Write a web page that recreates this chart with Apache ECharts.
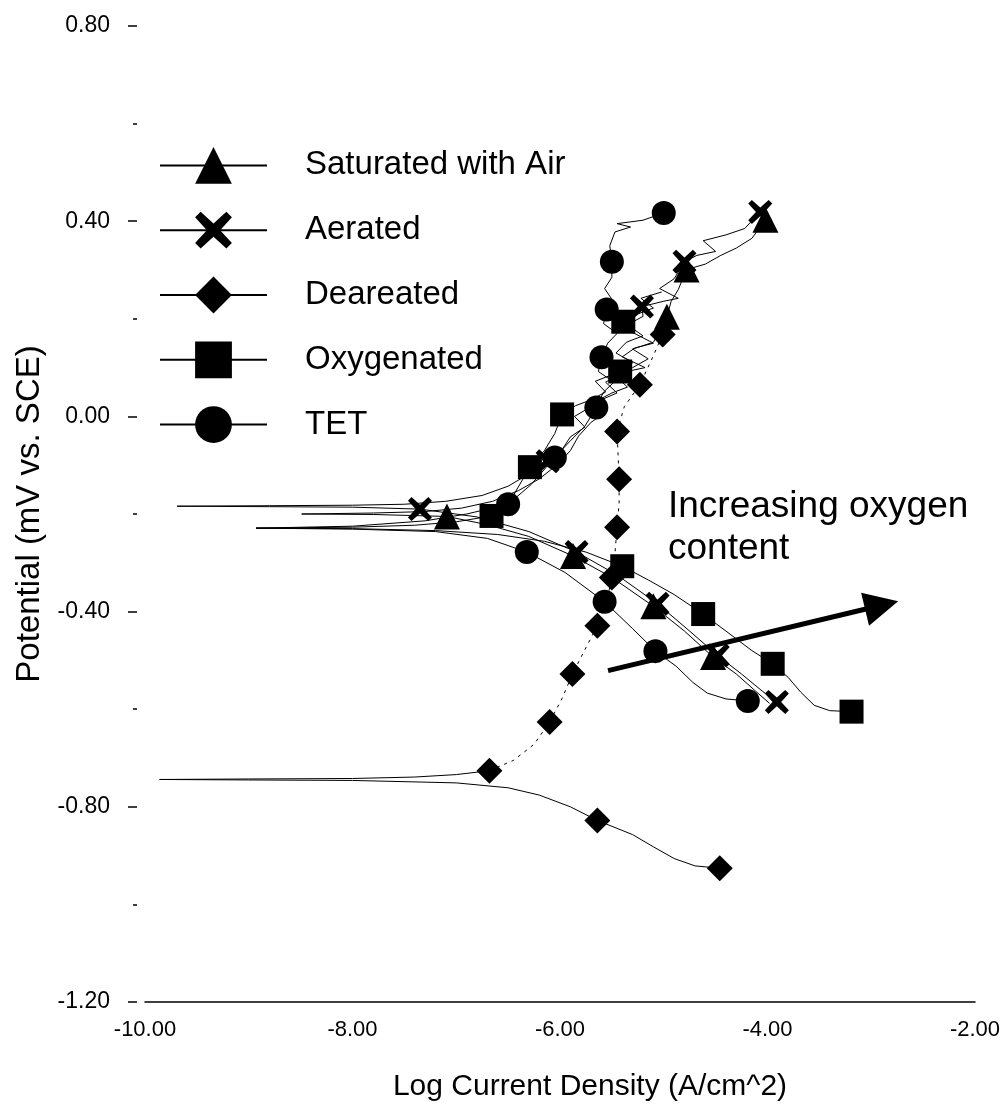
<!DOCTYPE html>
<html><head><meta charset="utf-8">
<script src="https://cdn.jsdelivr.net/npm/echarts@6/dist/echarts.min.js"></script>
<style>html,body{margin:0;padding:0;background:#fff}#chart{width:1006px;height:1111px}</style>
</head><body><div id="chart"></div>
<script>
// Series names (legend order)
const seriesNames = ['Saturated with Air', 'Aerated', 'Deareated', 'Oxygenated', 'TET'];

// Each curve: [logCurrent, potential, markerFlag]; scan runs cathodic end -> Ecorr tip -> anodic end.
const satAirCurve = [
  [-3.98,-0.588],[-4.12,-0.562],[-4.3,-0.528],[-4.525,-0.493,1],[-4.8,-0.44],[-5.10,-0.389,1],[-5.5,-0.33],
  [-5.875,-0.286,1],[-6.3,-0.246],[-6.7,-0.222],[-7.09,-0.205,1],[-7.8,-0.201],[-8.49,-0.2],
  [-7.8,-0.198],[-7.3,-0.195],[-6.95,-0.188],[-6.65,-0.174],[-6.4,-0.152],[-6.2,-0.128],[-6.02,-0.098],
  [-5.9,-0.07],[-5.82,-0.04],[-5.7,-0.012],[-5.56,0.008],[-5.66,0.03],[-5.5,0.048],[-5.35,0.06],[-5.46,0.082],
  [-5.3,0.1],[-5.15,0.118],[-5.3,0.138],[-5.1,0.152],[-5.02,0.18],[-4.97,0.204,1],[-4.93,0.235],[-4.86,0.26],
  [-4.78,0.301,1],[-4.6,0.312],[-4.45,0.33],[-4.3,0.345],[-4.15,0.365],[-4.02,0.403,1]
];
const aeratedCurve = [
  [-3.91,-0.585,1],[-4.05,-0.563],[-4.25,-0.528],[-4.48,-0.49,1],[-4.75,-0.44],[-5.06,-0.384,1],[-5.45,-0.325],
  [-5.84,-0.278,1],[-6.3,-0.236],[-6.8,-0.206],[-7.35,-0.19,1],[-8.0,-0.186],[-8.8,-0.185],[-9.69,-0.184],
  [-8.8,-0.183],[-8.0,-0.182],[-7.5,-0.18],[-7.1,-0.174],[-6.75,-0.162],[-6.5,-0.143],[-6.3,-0.118],
  [-6.12,-0.092,1],[-5.98,-0.068],[-5.9,-0.042],[-5.76,-0.022],[-5.86,0.0],[-5.7,0.02],[-5.58,0.036],
  [-5.45,0.048],[-5.56,0.07],[-5.4,0.09],[-5.18,0.1],[-5.4,0.122],[-5.28,0.14],[-5.1,0.15],[-5.3,0.172],
  [-5.33,0.19],[-5.2,0.205],[-5.21,0.225,1],[-5.0,0.236],[-4.86,0.242],[-5.04,0.262],[-4.9,0.282],
  [-4.8,0.317,1],[-4.68,0.33],[-4.5,0.338],[-4.62,0.36],[-4.4,0.372],[-4.22,0.385],[-4.07,0.419,1]
];
const deaeratedSolid = [
  [-4.46,-0.926,1],[-4.7,-0.921],[-4.9,-0.906],[-5.1,-0.882],[-5.3,-0.857],[-5.64,-0.828,1],[-5.9,-0.8],
  [-6.2,-0.776],[-6.5,-0.761],[-7.0,-0.751],[-8.0,-0.746],[-9.0,-0.745],[-9.86,-0.744],
  [-9.0,-0.743],[-8.0,-0.742],[-7.4,-0.739],[-7.0,-0.734],[-6.68,-0.726,1]
];
const deaeratedDotted = [
  [-6.68,-0.726],[-6.45,-0.705],[-6.25,-0.672],[-6.10,-0.626,1],[-5.98,-0.578],[-5.88,-0.528,1],[-5.76,-0.478],
  [-5.64,-0.429,1],[-5.55,-0.38],[-5.5,-0.33,1],[-5.47,-0.28],[-5.45,-0.227,1],[-5.43,-0.178],[-5.43,-0.129,1],
  [-5.44,-0.08],[-5.45,-0.031,1],[-5.38,0.02],[-5.23,0.065,1],[-5.12,0.115],[-5.01,0.168,1],[-4.95,0.21]
];
const oxygenatedCurve = [
  [-3.19,-0.605,1],[-3.4,-0.603],[-3.55,-0.592],[-3.68,-0.565],[-3.8,-0.535],[-3.95,-0.507,1],[-4.15,-0.48],
  [-4.4,-0.44],[-4.62,-0.405,1],[-4.9,-0.365],[-5.15,-0.335],[-5.4,-0.307,1],[-5.75,-0.278],[-6.15,-0.256],
  [-6.6,-0.242],[-7.2,-0.234],[-8.0,-0.23],[-8.93,-0.229],
  [-8.0,-0.227],[-7.4,-0.223],[-7.0,-0.216],[-6.66,-0.204,1],[-6.45,-0.162],[-6.29,-0.104,1],[-6.15,-0.07],
  [-6.05,-0.035],[-5.98,0.004,1],[-5.85,0.022],[-5.7,0.034],[-5.56,0.05],[-5.66,0.072],[-5.42,0.092,1],
  [-5.3,0.11],[-5.46,0.13],[-5.36,0.152],[-5.2,0.165],[-5.39,0.194,1],[-5.25,0.21],[-5.1,0.222],
  [-5.22,0.242],[-5.02,0.255]
];
const tetCurve = [
  [-4.19,-0.583,1],[-4.4,-0.579],[-4.58,-0.567],[-4.72,-0.545],[-4.88,-0.512],[-5.08,-0.481,1],[-5.3,-0.435],
  [-5.57,-0.38,1],[-5.95,-0.32],[-6.32,-0.278,1],[-6.7,-0.25],[-7.2,-0.236],[-8.0,-0.231],[-8.93,-0.229],
  [-8.0,-0.225],[-7.3,-0.214],[-6.9,-0.2],[-6.5,-0.18,1],[-6.28,-0.14],[-6.05,-0.084,1],[-5.9,-0.05],
  [-5.76,-0.02],[-5.65,0.018,1],[-5.58,0.05],[-5.48,0.07],[-5.63,0.092],[-5.6,0.121,1],[-5.54,0.15],
  [-5.45,0.17],[-5.58,0.19],[-5.55,0.219,1],[-5.5,0.24],[-5.57,0.262],[-5.5,0.285],[-5.5,0.317,1],
  [-5.52,0.35],[-5.47,0.378],[-5.32,0.388],[-5.45,0.395],[-5.2,0.402],[-5.0,0.417,1]
];

// Annotation arrow (data coordinates) and text
const arrowStart = [-5.537, -0.521];
const arrowEnd = [-2.90, -0.387];
const annotationLines = ['Increasing oxygen', 'content'];

// Axis ranges
const xRange = [-10, -2], xStep = 2;
const yRange = [-1.2, 0.8], yStep = 0.4;

const FONT = 'Liberation Sans, Arial, sans-serif';
const X_PATH = 'path://M1.5,0 L5,3.2 L8.5,0 L10,1.5 L6.8,5 L10,8.5 L8.5,10 L5,6.8 L1.5,10 L0,8.5 L3.2,5 L0,1.5 Z';

function toItems(curve) {
  return curve.map(p => p[2] ? { value: [p[0], p[1]] } : { value: [p[0], p[1]], symbol: 'none' });
}
function lineSeries(name, curve, symbol, size, lineType) {
  return {
    type: 'line', name: name, data: toItems(curve), symbol: symbol, symbolSize: size,
    showAllSymbol: true, smooth: false, silent: true, animation: false,
    lineStyle: { color: '#000', width: 1, type: lineType || 'solid' },
    itemStyle: { color: '#000', borderWidth: 0 },
    emphasis: { disabled: true }
  };
}

const chart = echarts.init(document.getElementById('chart'), null, { renderer: 'canvas' });
const tet = lineSeries(seriesNames[4], tetCurve, 'circle', 24);
tet.markLine = {
  silent: true, animation: false,
  symbol: ['none', 'triangle'], symbolSize: 34,
  lineStyle: { color: '#000', width: 5, type: 'solid' },
  itemStyle: { color: '#000' },
  label: { show: false },
  emphasis: { disabled: true },
  data: [[{ coord: arrowStart }, { coord: arrowEnd }]]
};

chart.setOption({
  backgroundColor: '#fff',
  animation: false,
  grid: { left: 145, right: 31, top: 26, bottom: 109, containLabel: false },
  legend: {
    data: seriesNames, orient: 'vertical', left: 154, top: 142,
    itemWidth: 107, itemHeight: 46, itemGap: 28,
    selectedMode: false,
    textStyle: { fontFamily: FONT, fontSize: 33, color: '#000', padding: [0, 0, 0, 33] }
  },
  xAxis: {
    type: 'value', min: xRange[0], max: xRange[1], interval: xStep,
    name: 'Log Current Density (A/cm^2)', nameLocation: 'middle', nameGap: 70,
    nameTextStyle: { fontFamily: FONT, fontSize: 30, color: '#000', padding: [0, 0, 0, 60] },
    axisLine: { show: true, onZero: false, lineStyle: { color: '#000', width: 1.5 } },
    axisTick: { show: false },
    splitLine: { show: false },
    axisLabel: { fontFamily: FONT, fontSize: 22, color: '#000', margin: 17, formatter: v => v.toFixed(2) }
  },
  yAxis: {
    type: 'value', min: yRange[0], max: yRange[1], interval: yStep, offset: 8,
    name: 'Potential (mV vs. SCE)', nameLocation: 'middle', nameGap: 90,
    nameTextStyle: { fontFamily: FONT, fontSize: 33, color: '#000' },
    axisLine: { show: false, onZero: false },
    axisTick: { show: true, length: 9, lineStyle: { color: '#000', width: 1.5 } },
    minorTick: { show: true, splitNumber: 2, length: 4, lineStyle: { color: '#000', width: 1.5 } },
    splitLine: { show: false },
    axisLabel: { fontFamily: FONT, fontSize: 23, color: '#000', margin: 27, formatter: v => v.toFixed(2) }
  },
  graphic: [{
    type: 'text', left: 668, top: 486, silent: true,
    style: { text: annotationLines.join('\n'), fontFamily: FONT, fontSize: 37, lineHeight: 42, fill: '#000' }
  }],
  series: [
    lineSeries(seriesNames[0], satAirCurve, 'triangle', 26),
    lineSeries(seriesNames[1], aeratedCurve, X_PATH, 24),
    lineSeries(seriesNames[2], deaeratedSolid, 'diamond', 26),
    lineSeries(seriesNames[2], deaeratedDotted, 'diamond', 26, [3, 5]),
    lineSeries(seriesNames[3], oxygenatedCurve, 'rect', 24),
    tet
  ]
});
</script></body></html>
